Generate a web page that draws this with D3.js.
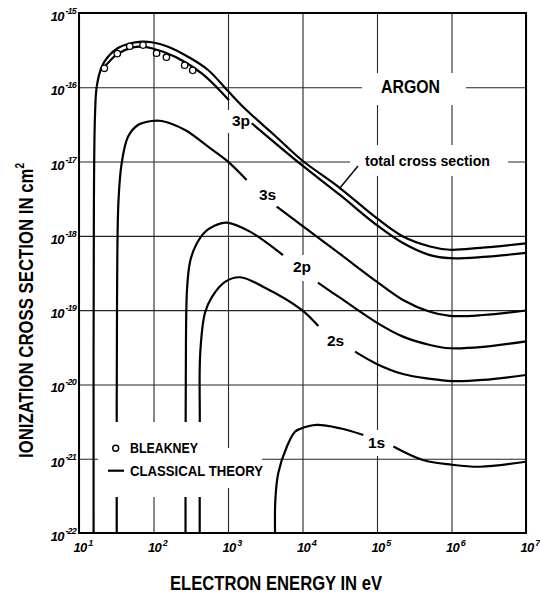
<!DOCTYPE html>
<html><head><meta charset="utf-8">
<script src="https://cdn.jsdelivr.net/npm/d3@7"></script>
<style>body{margin:0;background:#fff}svg{display:block}</style>
</head><body><svg id="c" width="540" height="599"></svg>
<script>
// ---------- data ----------
const xExps = [1, 2, 3, 4, 5, 6, 7];               // energy ticks 10^n eV
const yExps = [-15, -16, -17, -18, -19, -20, -21, -22]; // cross-section ticks 10^n cm^2

// total cross section
const total_E = [15.7, 15.85, 16.4, 17.3, 20.2, 24.5, 33.3, 45.5, 69.5, 94.6, 157, 290, 540, 1000, 1780, 4280, 9750, 31800, 99000, 2.23e5, 5.14e5, 9.55e5, 2.42e6, 1e7];
const total_S = [1e-22, 3.0e-18, 4.2e-17, 1.02e-16, 1.89e-16, 2.58e-16, 3.38e-16, 3.83e-16, 4.11e-16, 4.04e-16, 3.52e-16, 2.58e-16, 1.71e-16, 8.9e-17, 4.9e-17, 2.23e-17, 1.05e-17, 4.4e-18, 1.73e-18, 9.8e-19, 7.2e-19, 6.5e-19, 6.9e-19, 7.9e-19];

// 3p shell (two pieces, broken at its label)
const p3_E1 = [21.2, 32.7, 53.1, 69.5, 94.6, 195, 444, 1030];
const p3_S1 = [1.80e-16, 2.80e-16, 3.45e-16, 3.52e-16, 3.35e-16, 2.58e-16, 1.54e-16, 6.7e-17];
const p3_E2 = [2080, 9750, 31800, 99000, 2.23e5, 5.14e5, 9.55e5, 2.65e6, 1e7];
const p3_S2 = [3.28e-17, 9.0e-18, 3.55e-18, 1.40e-18, 8.0e-19, 5.5e-19, 5.0e-19, 5.2e-19, 5.9e-19];

// 3s shell
const s3_E1 = [32.1, 32.4, 33.9, 37.4, 45.5, 61.9, 94.6, 129, 265, 540, 1000, 1780];
const s3_S1 = [1e-22, 1.37e-19, 3.0e-18, 9.5e-18, 2.16e-17, 3.11e-17, 3.52e-17, 3.52e-17, 2.66e-17, 1.59e-17, 1.0e-17, 5.65e-18];
const s3_E2 = [4510, 31800, 99000, 2.23e5, 5.14e5, 9.55e5, 2.65e6, 1e7];
const s3_S2 = [2.47e-18, 5.7e-19, 2.42e-19, 1.37e-19, 9.5e-20, 8.35e-20, 8.6e-20, 9.9e-20];

// 2p shell
const p2_E1 = [269, 271.4, 281.6, 309, 372, 491, 649, 962, 1970, 5470];
const p2_S1 = [1e-22, 1.15e-20, 1.87e-19, 4.46e-19, 7.55e-19, 1.13e-18, 1.36e-18, 1.51e-18, 1.14e-18, 5.5e-19];
const p2_E2 = [16100, 31800, 99000, 2.23e5, 5.14e5, 9.55e5, 2.65e6, 1e7];
const p2_S2 = [2.34e-19, 1.47e-19, 6.8e-20, 4.4e-20, 3.4e-20, 3.07e-20, 3.2e-20, 3.8e-20];

// 2s shell
const s2_E1 = [417, 418, 424, 491, 610, 912, 1450, 2950, 9750, 16300];
const s2_S1 = [1e-22, 3.3e-21, 2.65e-20, 9.2e-20, 1.51e-19, 2.40e-19, 2.77e-19, 2.07e-19, 1.01e-19, 6.1e-20];
const s2_E2 = [50700, 99000, 2.23e5, 5.14e5, 1.02e6, 2.65e6, 1e7];
const s2_S2 = [2.76e-20, 1.89e-20, 1.38e-20, 1.19e-20, 1.11e-20, 1.15e-20, 1.34e-20];

// 1s shell
const s1_E1 = [4280, 4320, 4730, 6140, 7920, 9250, 15500, 31800, 65500];
const s1_S1 = [1e-22, 2.79e-22, 6.44e-22, 1.44e-21, 2.30e-21, 2.52e-21, 2.85e-21, 2.57e-21, 2.09e-21];
const s1_E2 = [1.66e5, 4.14e5, 1.01e6, 2.42e6, 1e7];
const s1_S2 = [1.46e-21, 9.6e-22, 8.3e-22, 7.8e-22, 9.1e-22];

// Bleakney measurements
const bleak_E = [21.9, 32.7, 48.0, 72.3, 110, 149, 262, 336];
const bleak_S = [1.80e-16, 2.84e-16, 3.57e-16, 3.70e-16, 2.87e-16, 2.54e-16, 1.98e-16, 1.69e-16];

const shellLabels = ["3p", "3s", "2p", "2s", "1s"];
const legendLabels = ["BLEAKNEY", "CLASSICAL THEORY"];

// ---------- drawing ----------
const svg = d3.select('#c');
const X0 = 79, X1 = 526, Y0 = 13, Y1 = 533;
const x = d3.scaleLog().domain([1e1, 1e7]).range([X0, X1]);
const y = d3.scaleLog().domain([1e-22, 1e-15]).range([Y1, Y0]);

svg.append('rect').attr('width', 540).attr('height', 599).attr('fill', '#fff');

// grid via axes
svg.append('g').attr('transform', `translate(0,${Y1})`)
  .call(d3.axisBottom(x).tickValues(xExps.map(e => Math.pow(10, e))).tickSize(-(Y1 - Y0)).tickFormat(''))
  .call(g => g.select('.domain').remove())
  .call(g => g.selectAll('line').attr('stroke', '#262626').attr('stroke-width', 1.1));
svg.append('g').attr('transform', `translate(${X0},0)`)
  .call(d3.axisLeft(y).tickValues(yExps.map(e => Math.pow(10, e))).tickSize(-(X1 - X0)).tickFormat(''))
  .call(g => g.select('.domain').remove())
  .call(g => g.selectAll('line').attr('stroke', '#262626').attr('stroke-width', 1.1));

// white gaps behind annotation text
const gaps = [[362, 73, 104, 32], [350, 145, 158, 31], [225, 110, 27, 23], [287, 255, 29, 26], [362, 430, 26, 26]];
svg.append('g').selectAll('rect').data(gaps).join('rect')
  .attr('x', d => d[0]).attr('y', d => d[1]).attr('width', d => d[2]).attr('height', d => d[3]).attr('fill', '#fff');

// curves
const zip = (E, S) => E.map((e, i) => [e, S[i]]);
const segments = [
  zip(total_E, total_S), zip(p3_E1, p3_S1), zip(p3_E2, p3_S2),
  zip(s3_E1, s3_S1), zip(s3_E2, s3_S2), zip(p2_E1, p2_S1), zip(p2_E2, p2_S2),
  zip(s2_E1, s2_S1), zip(s2_E2, s2_S2), zip(s1_E1, s1_S1), zip(s1_E2, s1_S2)
];
const line = d3.line().x(d => x(d[0])).y(d => y(d[1])).curve(d3.curveCatmullRom.alpha(0.5));
svg.append('g').selectAll('path').data(segments).join('path')
  .attr('d', line).attr('fill', 'none').attr('stroke', '#000').attr('stroke-width', 2.2)
  .attr('stroke-linejoin', 'round').attr('stroke-linecap', 'butt');

// leader line for "total cross section"
svg.append('line').attr('x1', 358).attr('y1', 166).attr('x2', x(31800)).attr('y2', y(4.4e-18))
  .attr('stroke', '#000').attr('stroke-width', 1.4);

// Bleakney circles
svg.append('g').selectAll('circle').data(zip(bleak_E, bleak_S)).join('circle')
  .attr('cx', d => x(d[0])).attr('cy', d => y(d[1])).attr('r', 3.2)
  .attr('fill', '#fff').attr('stroke', '#000').attr('stroke-width', 1.3);

// legend area blanks
svg.append('rect').attr('x', 98).attr('y', 422).attr('width', 107).attr('height', 75).attr('fill', '#fff');
svg.append('rect').attr('x', 205).attr('y', 448).attr('width', 57).attr('height', 40).attr('fill', '#fff');

// frame
svg.append('rect').attr('x', X0).attr('y', Y0).attr('width', X1 - X0).attr('height', Y1 - Y0)
  .attr('fill', 'none').attr('stroke', '#000').attr('stroke-width', 2);

const FONT = "'Liberation Sans', Arial, sans-serif";

// legend
svg.append('circle').attr('cx', 115.7).attr('cy', 448.3).attr('r', 3).attr('fill', '#fff').attr('stroke', '#000').attr('stroke-width', 1.4);
svg.append('line').attr('x1', 108).attr('x2', 124).attr('y1', 470.7).attr('y2', 470.7).attr('stroke', '#000').attr('stroke-width', 2.2);
const legY = [453, 476], legW = [68, 133];
legendLabels.forEach((t, i) => {
  svg.append('text').attr('x', 130).attr('y', legY[i]).text(t)
    .attr('font-family', FONT).attr('font-weight', 'bold').attr('font-size', 14)
    .attr('textLength', legW[i]).attr('lengthAdjust', 'spacingAndGlyphs');
});

// shell labels
const labPos = [[232, 126], [259, 200], [293, 272], [327, 346], [368, 448]];
shellLabels.forEach((t, i) => {
  svg.append('text').attr('x', labPos[i][0]).attr('y', labPos[i][1]).text(t)
    .attr('font-family', FONT).attr('font-weight', 'bold').attr('font-size', 15.5);
});

svg.append('text').attr('x', 381).attr('y', 93).text('ARGON')
  .attr('font-family', FONT).attr('font-weight', 'bold').attr('font-size', 18)
  .attr('textLength', 59).attr('lengthAdjust', 'spacingAndGlyphs');
svg.append('text').attr('x', 365).attr('y', 166).text('total cross section')
  .attr('font-family', FONT).attr('font-weight', 'bold').attr('font-size', 14.5)
  .attr('textLength', 125).attr('lengthAdjust', 'spacingAndGlyphs');

// tick labels
xExps.forEach(e => {
  const t = svg.append('text').attr('x', x(Math.pow(10, e)) + 4).attr('y', 552).attr('text-anchor', 'middle')
    .attr('font-family', FONT).attr('font-style', 'italic').attr('font-weight', 'bold').attr('font-size', 13)
    .attr('letter-spacing', -0.8);
  t.append('tspan').text('10');
  t.append('tspan').text(String(e)).attr('font-size', 9).attr('dy', -6).attr('dx', 1.8);
});
yExps.forEach(e => {
  const t = svg.append('text').attr('x', 76).attr('y', y(Math.pow(10, e)) + 8).attr('text-anchor', 'end')
    .attr('font-family', FONT).attr('font-style', 'italic').attr('font-weight', 'bold').attr('font-size', 13)
    .attr('letter-spacing', -0.8);
  t.append('tspan').text('10');
  t.append('tspan').text(String(e)).attr('font-size', 9).attr('dy', -7).attr('dx', 1.8);
});

// axis titles
const yt = svg.append('text').attr('transform', 'translate(33,310.5) rotate(-90)').attr('text-anchor', 'middle')
  .attr('font-family', FONT).attr('font-weight', 'bold').attr('font-size', 20)
  .attr('textLength', 295).attr('lengthAdjust', 'spacingAndGlyphs');
yt.append('tspan').text('IONIZATION  CROSS  SECTION  IN  cm');
yt.append('tspan').text('2').attr('font-size', 12).attr('dy', -9);

svg.append('text').attr('x', 276).attr('y', 590).attr('text-anchor', 'middle')
  .attr('font-family', FONT).attr('font-weight', 'bold').attr('font-size', 20)
  .attr('textLength', 212).attr('lengthAdjust', 'spacingAndGlyphs')
  .text('ELECTRON  ENERGY   IN  eV');
</script></body></html>
